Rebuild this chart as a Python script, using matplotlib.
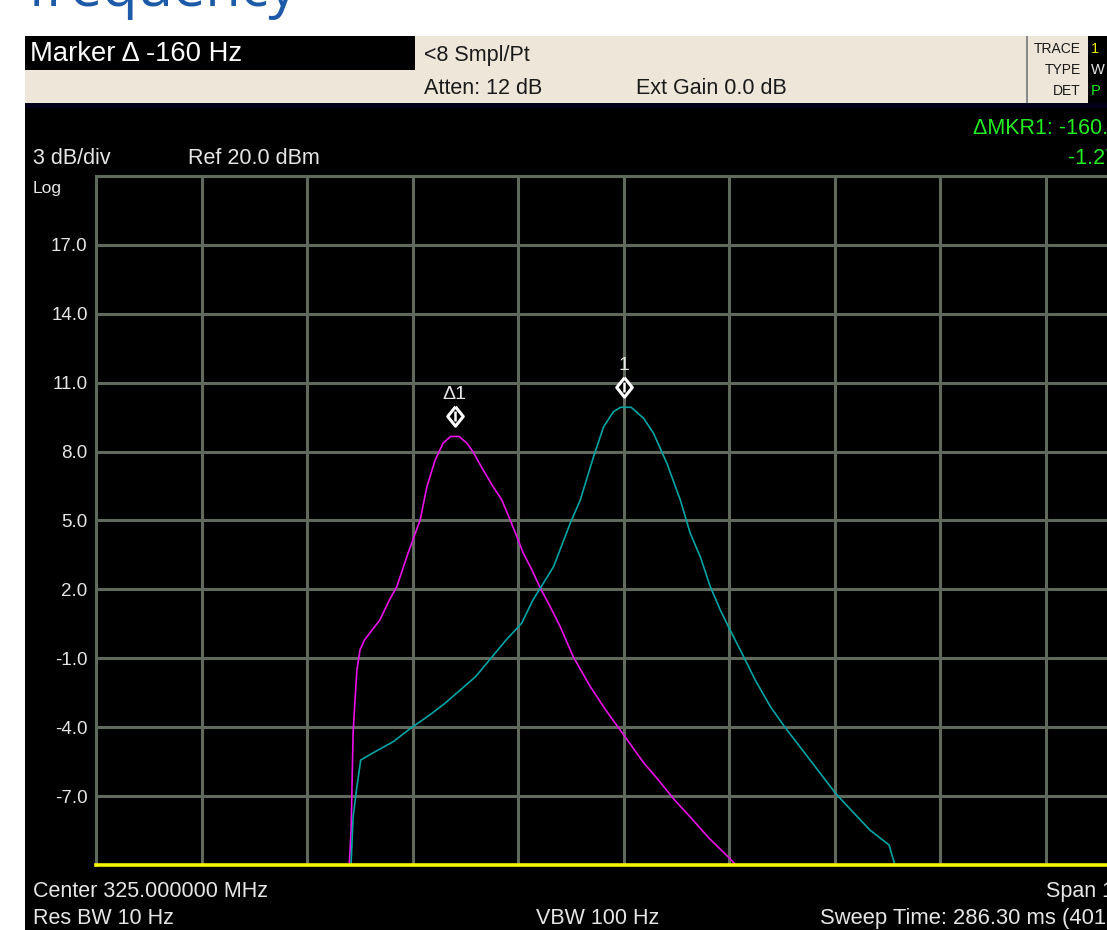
import matplotlib
matplotlib.use("Agg")
import matplotlib.pyplot as plt
from matplotlib.patches import Rectangle
from matplotlib import transforms

plt.rcParams['font.family'] = ['Liberation Sans', 'DejaVu Sans']

# Frequency offsets from center (Hz) and measured level (dBm) for each trace
magenta_freq = [-262, -260.1, -258.3, -256.4, -254.6, -252.8, -249.9, -245.6, -238.4,
                -231.0, -222.0, -215.0, -204.3, -192.9, -186.5, -178.7, -171.1,
                -164.0, -156.0, -148.6, -142.7, -133.2, -123.7, -115.5, -107.6,
                -101.2, -95.3, -87.0, -79.1, -69.7, -60.2, -47.9, -31.6, -17.1,
                1.1, 19.2, 30.1, 48.2, 62.8, 81.0, 95.5, 106.4, 110]
magenta_level = [-10.5, -10.0, -8.48, -4.25, -2.82, -1.51, -0.64, -0.20, 0.23,
                 0.67, 1.54, 2.12, 3.59, 5.02, 6.47, 7.63, 8.37,
                 8.66, 8.66, 8.37, 7.98, 7.20, 6.47, 5.89, 5.02,
                 4.29, 3.59, 2.85, 2.06, 1.25, 0.38, -0.93, -2.24, -3.25,
                 -4.41, -5.57, -6.15, -7.17, -7.90, -8.84, -9.49, -10.0, -10.5]

cyan_freq = [-260, -258.3, -256.4, -252.8, -249.2, -238.4, -218.4, -202.0, -183.9,
             -169.4, -154.9, -140.4, -125.9, -111.4, -96.8, -86.0, -79.1, -66.5,
             -50.7, -41.2, -28.6, -19.1, -9.7, -3.0, 7.0, 18.8, 28.2, 40.9, 53.6,
             63.0, 72.5, 82.0, 91.5, 99.1, 113.6, 124.5, 139.0, 153.5, 171.7,
             186.2, 200.7, 215.2, 233.3, 251.4, 256.9, 259]
cyan_level = [-10.5, -9.91, -7.90, -6.59, -5.43, -5.14, -4.63, -4.05, -3.47,
              -2.96, -2.38, -1.80, -1.00, -0.20, 0.52, 1.54, 2.05, 2.99,
              4.88, 5.89, 7.78, 9.08, 9.74, 9.93, 9.93, 9.45, 8.80, 7.49, 5.89,
              4.44, 3.42, 2.12, 1.10, 0.38, -0.93, -1.94, -3.11, -4.05, -5.14,
              -6.01, -6.88, -7.60, -8.48, -9.13, -10.0, -10.5]

# Markers: reference marker 1 and delta marker
marker_freq = [0.0, -160.0]
marker_level = [9.93, 8.66]
marker_names = ["1", "Δ1"]

freq_ticks = [-500, -400, -300, -200, -100, 0, 100, 200, 300, 400, 500]
level_ticks = [-10, -7, -4, -1, 2, 5, 8, 11, 14, 17, 20]
level_labels = ["", "-7.0", "-4.0", "-1.0", "2.0", "5.0", "8.0", "11.0", "14.0", "17.0", ""]

W, H = 1107, 930
fig = plt.figure(figsize=(W / 100, H / 100), dpi=100)
fig.patch.set_facecolor("white")


def fx(px):
    return px / W


def fy(py):
    return 1 - py / H


def box(x0, y0, x1, y1, color):
    fig.patches.append(Rectangle((fx(x0), fy(y1)), fx(x1) - fx(x0), fy(y0) - fy(y1),
                                 transform=fig.transFigure, facecolor=color,
                                 edgecolor="none", zorder=-10))


def txt(px, py, s, size, color, ha="left", va="center", **kw):
    fig.text(fx(px), fy(py), s, fontsize=size, color=color, ha=ha, va=va, **kw)


# Page heading (runs off the top edge)
txt(27, 6, "frequency", 41.5, "#1d5ba8", va="baseline", family=["Open Sans", "DejaVu Sans"])

# Instrument screen
box(25, 104, W, H, "black")
box(25, 102, W, 108, "#00001c")
box(25, 36, W, 103, "#ede6d9")
box(25, 36, 415, 70, "black")
box(1026, 36, 1028, 103, "#8a8a8a")
box(1088, 36, W, 103, "black")

FG = "#e6e6e6"
TXT = "#1a1a1a"
txt(30, 54, "Marker Δ -160 Hz", 19.7, "white")
txt(424, 56, "<8 Smpl/Pt", 15.5, TXT)
txt(424, 88, "Atten: 12 dB", 15.5, TXT)
txt(636, 88, "Ext Gain 0.0 dB", 15.5, TXT)
txt(1081, 49, "TRACE", 10, TXT, ha="right")
txt(1081, 70, "TYPE", 10, TXT, ha="right")
txt(1081, 91, "DET", 10, TXT, ha="right")
txt(1091, 49, "1", 10.5, "#e8e800")
txt(1091, 70, "W", 10.5, FG)
txt(1091, 91, "P", 10.5, "#22ee22")

txt(973, 128, "ΔMKR1: -160.0 Hz", 15.5, "#22ee22")
txt(1068, 158, "-1.27 dB", 15.5, "#22ee22")
txt(33, 158, "3 dB/div", 15.5, FG)
txt(188, 158, "Ref 20.0 dBm", 15.5, FG)
txt(33, 189, "Log", 12.5, FG)

txt(33, 891, "Center 325.000000 MHz", 15.5, FG)
txt(33, 918, "Res BW 10 Hz", 15.5, FG)
txt(536, 918, "VBW 100 Hz", 15.5, FG)
txt(820, 918, "Sweep Time: 286.30 ms (401 pts)", 15.8, FG)
txt(1046, 891, "Span 1 kHz", 15.5, FG)

# Graticule area: 10 divisions wide, 100 Hz/div, 3 dB/div
x0, x1, y0, y1 = 96, 1151.5, 176, 865
ax = fig.add_axes([fx(x0), fy(y1), fx(x1) - fx(x0), fy(y0) - fy(y1)])
ax.set_facecolor("black")
ax.set_xlim(-500, 500)
ax.set_ylim(-10, 20)
grid_color = "#5f6a5c"
ax.set_xticks(freq_ticks)
ax.set_yticks(level_ticks)
ax.set_xticklabels([])
ax.set_yticklabels(level_labels)
ax.tick_params(length=0, pad=6, labelsize=13.5, labelcolor=FG)
ax.grid(True, color=grid_color, lw=2.2, zorder=1)
ax.set_axisbelow(True)
for side in ("left", "top", "right"):
    ax.spines[side].set_color(grid_color)
    ax.spines[side].set_linewidth(2.2)
ax.spines["bottom"].set_visible(False)

ax.plot(magenta_freq, magenta_level, color="#ea10ea", lw=1.2, zorder=3)
ax.plot(cyan_freq, cyan_level, color="#00a4a4", lw=1.2, zorder=3)
ax.axhline(-10, color="#f5f500", lw=2.6, zorder=4, clip_on=False)

diamond = [(0, 1), (0.8, 0), (0, -1), (-0.8, 0), (0, 1)]
for f, lv, name in zip(marker_freq, marker_level, marker_names):
    tr = transforms.offset_copy(ax.transData, fig=fig, x=0, y=14.5, units="points")
    ax.plot([f], [lv], marker=diamond, ms=14, mfc="black", mec="white", mew=2.2,
            transform=tr, zorder=6, clip_on=False)
    ax.plot([f], [lv], marker="|", ms=7, mec="white", mew=1.8,
            transform=tr, zorder=7, clip_on=False)
    ax.annotate(name, (f, lv), xytext=(0, 30), textcoords="offset points",
                ha="center", va="center", fontsize=14, color=FG, zorder=7)

fig.savefig("out.png", dpi=100, facecolor=fig.get_facecolor())
